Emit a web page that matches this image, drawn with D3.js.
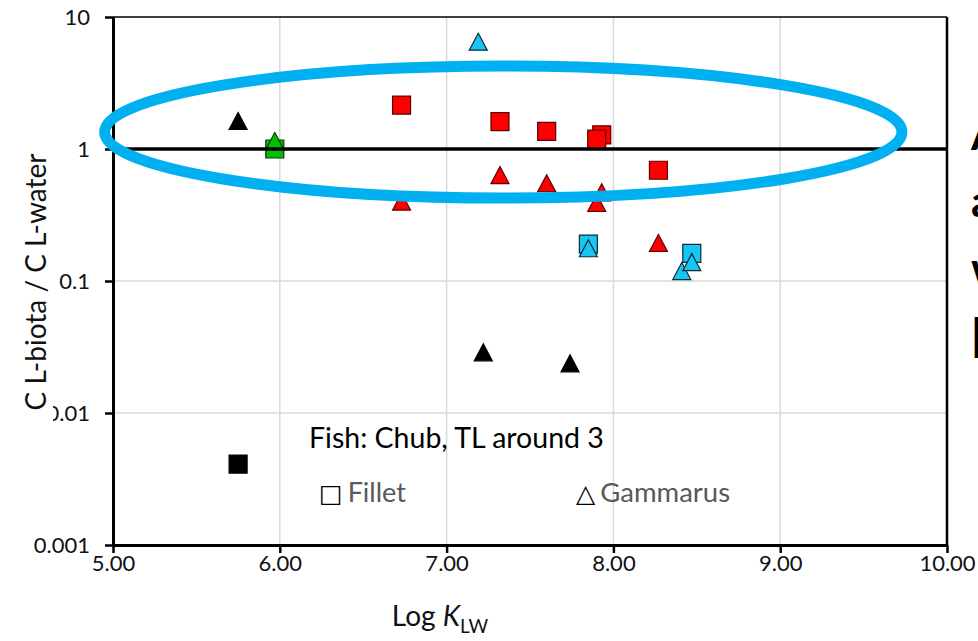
<!DOCTYPE html>
<html>
<head>
<meta charset="utf-8">
<script src="https://cdn.jsdelivr.net/npm/d3@7"></script>
<style>
  html, body { margin: 0; padding: 0; background: #fff; overflow: hidden; }
  svg { display: block; }
  text { font-family: Lato, "Liberation Sans", sans-serif; }
</style>
</head>
<body>
<svg id="chart" width="978" height="641"></svg>
<script>
// Log KLW and the biota/water concentration ratio, per tissue type.
// Group tags pick the marker colour.
const xTicks = [5, 6, 7, 8, 9, 10];
const yTicks = [0.001, 0.01, 0.1, 1, 10];
const yTickLabels = ["0.001", "0.01", "0.1", "1", "10"];

// Fish fillet (squares)
const filletLogK  = [5.75,   5.97, 6.73, 7.32, 7.60, 7.93, 7.90, 8.27, 7.85, 8.47];
const filletRatio = [0.0041, 1.0,  2.15, 1.61, 1.36, 1.28, 1.19, 0.69, 0.19, 0.162];
const filletGroup = ["black", "green", "red", "red", "red", "red", "red", "red", "cyan", "cyan"];

// Gammarus (triangles)
const gammarusLogK  = [5.75, 5.97, 6.73, 7.19, 7.32,  7.22,   7.60, 7.74,   7.93, 7.90, 8.27,  7.85,  8.41,  8.47];
const gammarusRatio = [1.63, 1.15, 0.40, 6.5,  0.635, 0.0288, 0.55, 0.0238, 0.47, 0.39, 0.194, 0.177, 0.119, 0.139];
const gammarusGroup = ["black", "green", "red", "cyan", "red", "black", "red", "black", "red", "red", "red", "cyan", "cyan", "cyan"];

// Highlighted band around ratio = 1
const bandLogK  = [4.95, 9.73];
const bandRatio = [0.425, 4.25];

const groupFill   = { red: "#ff0000", cyan: "#17c6f4", black: "#000000", green: "#00c000" };
const groupStroke = { red: "#5a0000", cyan: "#0b2a33", black: "#000000", green: "#0a3a0a" };

const svg = d3.select("#chart");
const plot = { left: 113, right: 947, top: 17, bottom: 545 };

const x = d3.scaleLinear().domain([5, 10]).range([plot.left, plot.right]);
const y = d3.scaleLog().domain([0.001, 10]).range([plot.bottom, plot.top]);

// gridlines
svg.append("g").selectAll("line.vg").data(xTicks.slice(1, -1)).join("line")
  .attr("x1", d => x(d)).attr("x2", d => x(d))
  .attr("y1", plot.top).attr("y2", plot.bottom)
  .attr("stroke", "#d9d9d9").attr("stroke-width", 1.5);
svg.append("g").selectAll("line.hg").data(yTicks.slice(1, -1)).join("line")
  .attr("x1", plot.left).attr("x2", plot.right)
  .attr("y1", d => y(d)).attr("y2", d => y(d))
  .attr("stroke", "#d9d9d9").attr("stroke-width", 1.5);

// plot frame (top and right)
svg.append("line").attr("x1", plot.left).attr("x2", plot.right)
  .attr("y1", plot.top).attr("y2", plot.top).attr("stroke", "#000").attr("stroke-width", 1.5);
svg.append("line").attr("x1", plot.right).attr("x2", plot.right)
  .attr("y1", plot.top).attr("y2", plot.bottom).attr("stroke", "#000").attr("stroke-width", 2.5);

// axes
const xAxis = svg.append("g").attr("transform", `translate(0,${plot.bottom})`)
  .call(d3.axisBottom(x).tickValues(xTicks).tickFormat(d3.format(".2f")).tickSize(8).tickSizeOuter(0).tickPadding(2));
const yAxis = svg.append("g").attr("transform", `translate(${plot.left},0)`)
  .call(d3.axisLeft(y).tickValues(yTicks).tickFormat((d, i) => yTickLabels[i]).tickSize(8).tickSizeOuter(0).tickPadding(15));
[xAxis, yAxis].forEach(a => {
  a.select(".domain").attr("stroke", "#000").attr("stroke-width", 3);
  a.selectAll(".tick line").attr("stroke", "#000").attr("stroke-width", 2.5);
  a.selectAll(".tick text").attr("fill", "#111").style("font-size", "22px").style("font-family", "Lato");
});

// marker shapes (centred on the data point)
const squarePath = "M-9,-9H9V9H-9Z";
const trianglePath = "M0,-8.5L9,8.5H-9Z";

const fillet = filletLogK.map((k, i) => ({ k, r: filletRatio[i], g: filletGroup[i] }));
const gammarus = gammarusLogK.map((k, i) => ({ k, r: gammarusRatio[i], g: gammarusGroup[i] }));

svg.append("g").selectAll("path").data(fillet).join("path")
  .attr("d", squarePath)
  .attr("transform", d => `translate(${x(d.k)},${y(d.r)})`)
  .attr("fill", d => groupFill[d.g]).attr("stroke", d => groupStroke[d.g]).attr("stroke-width", 1.2);
svg.append("g").selectAll("path").data(gammarus).join("path")
  .attr("d", trianglePath)
  .attr("transform", d => `translate(${x(d.k)},${y(d.r)})`)
  .attr("fill", d => groupFill[d.g]).attr("stroke", d => groupStroke[d.g]).attr("stroke-width", 1.2);

// reference line at ratio = 1
svg.append("line").attr("x1", plot.left).attr("x2", plot.right)
  .attr("y1", y(1)).attr("y2", y(1)).attr("stroke", "#000").attr("stroke-width", 3.5);

// highlight ellipse
const ex0 = x(bandLogK[0]), ex1 = x(bandLogK[1]);
const ey0 = y(bandRatio[1]), ey1 = y(bandRatio[0]);
svg.append("ellipse")
  .attr("cx", (ex0 + ex1) / 2).attr("cy", (ey0 + ey1) / 2)
  .attr("rx", (ex1 - ex0) / 2).attr("ry", (ey1 - ey0) / 2)
  .attr("fill", "none").attr("stroke", "#00b0f0").attr("stroke-width", 11);

// in-plot annotation and legend
svg.append("text").attr("x", 309).attr("y", 448)
  .style("font-size", "28.5px").attr("fill", "#000").text("Fish: Chub, TL around 3");
const leg1 = svg.append("text").attr("x", 319).attr("y", 502).style("font-size", "27px").attr("fill", "#595959");
leg1.append("tspan").style("font-family", "DejaVu Sans").attr("fill", "#000").style("font-size", "25px").text("□");
leg1.append("tspan").attr("dx", 5).text("Fillet");
const leg2 = svg.append("text").attr("x", 576).attr("y", 502).style("font-size", "27.5px").attr("fill", "#595959");
leg2.append("tspan").style("font-family", "DejaVu Sans").attr("fill", "#000").style("font-size", "25px").text("△");
leg2.append("tspan").attr("dx", 5).text("Gammarus");

// axis titles
const xt = svg.append("text").attr("x", 440).attr("y", 626).attr("text-anchor", "middle")
  .style("font-size", "28px").attr("fill", "#111");
xt.append("tspan").text("Log ");
xt.append("tspan").style("font-style", "italic").text("K");
xt.append("tspan").attr("dy", 7).style("font-size", "19px").text("LW");

const yTitleG = svg.append("g").attr("transform", "translate(36,282) rotate(-90)");
yTitleG.append("rect").attr("x", -140).attr("y", -17).attr("width", 280).attr("height", 34).attr("fill", "#fff");
yTitleG.append("text").attr("text-anchor", "middle").attr("dy", "0.35em")
  .style("font-size", "28px").attr("fill", "#111").text("C L-biota / C L-water");

// side note, running past the right edge
const sideLines = ["A", "a", "w", "["];
svg.append("g").selectAll("text").data(sideLines).join("text")
  .attr("x", 971).attr("y", (d, i) => 150 + i * 67)
  .style("font-size", "44px").style("font-weight", "bold").attr("fill", "#000")
  .text(d => d);
</script>
</body>
</html>
